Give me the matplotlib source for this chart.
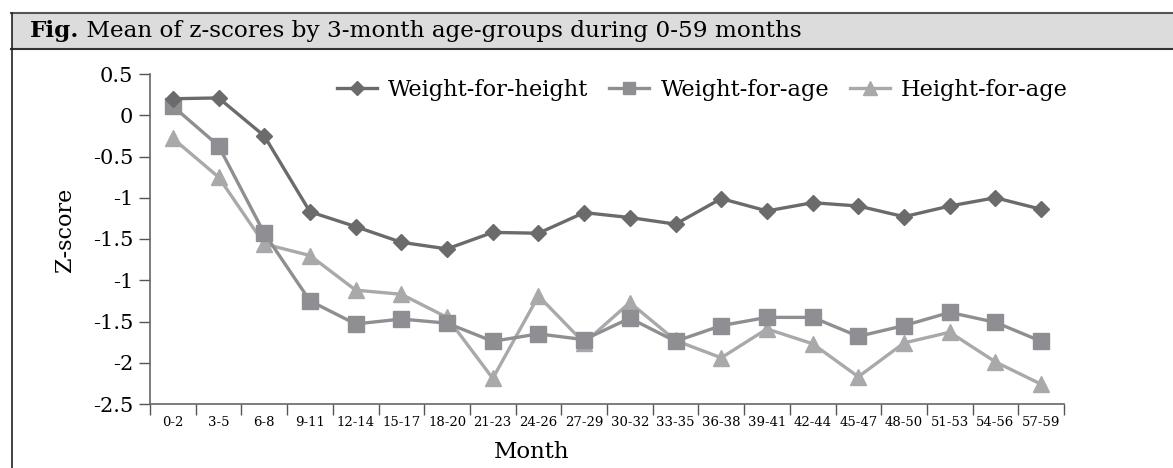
import matplotlib
matplotlib.use("Agg")
import matplotlib.pyplot as plt
from matplotlib.lines import Line2D
from matplotlib.patches import Rectangle

categories = ["0-2", "3-5", "6-8", "9-11", "12-14", "15-17", "18-20", "21-23", "24-26",
              "27-29", "30-32", "33-35", "36-38", "39-41", "42-44", "45-47", "48-50",
              "51-53", "54-56", "57-59"]
weight_for_height = [0.20, 0.21, -0.25, -1.17, -1.35, -1.54, -1.62, -1.42, -1.43, -1.18,
                     -1.24, -1.32, -1.01, -1.16, -1.06, -1.10, -1.23, -1.10, -1.00, -1.14]
weight_for_age = [0.11, -0.37, -1.43, -2.25, -2.53, -2.47, -2.52, -2.74, -2.65, -2.72,
                  -2.46, -2.74, -2.55, -2.45, -2.45, -2.68, -2.55, -2.39, -2.51, -2.74]
height_for_age = [-0.28, -0.75, -1.56, -1.70, -2.12, -2.17, -2.45, -3.19, -2.19, -2.76,
                  -2.27, -2.73, -2.94, -2.59, -2.77, -3.17, -2.76, -2.63, -2.99, -3.26]
ytick_values = [0.5, 0, -0.5, -1, -1.5, -2, -2.5, -3, -3.5]
ytick_labels = ["0.5", "0", "-0.5", "-1", "-1.5", "-1", "-1.5", "-2", "-2.5"]
title_bold = "Fig."
title_rest = " Mean of z-scores by 3-month age-groups during 0-59 months"

W, H = 1173, 468
SERIF = ["DejaVu Serif"]
plt.rcParams["font.family"] = SERIF

fig = plt.figure(figsize=(W / 100, H / 100), dpi=100)

def fx(px):
    return px / W

def fy(py):
    return 1 - py / H

# title band and frame
fig.patches.append(Rectangle((fx(12), fy(49)), 1 - fx(12), fy(13) - fy(49),
                             transform=fig.transFigure, facecolor="#dcdcdc",
                             edgecolor="none", zorder=0))
fig.add_artist(Line2D([fx(11), 1], [fy(13), fy(13)], color="#555555", lw=1.5))
fig.add_artist(Line2D([fx(11), 1], [fy(49), fy(49)], color="#333333", lw=1.5))
fig.add_artist(Line2D([fx(12), fx(12)], [fy(13), 0], color="#222222", lw=1.2))

t1 = fig.text(fx(30), fy(31), title_bold, fontsize=16.7, fontweight="bold", va="center",
              ha="left")
fig.canvas.draw()
bb = t1.get_window_extent()
fig.text(bb.x1 / W, fy(31), title_rest, fontsize=16.7, va="center", ha="left")

ax = fig.add_axes([fx(150), fy(404), fx(1064) - fx(150), fy(74) - fy(404)])
x = [i + 0.5 for i in range(len(categories))]

c_wfh, c_wfa, c_hfa = "#6b6b6b", "#8f8f93", "#a9a9ab"
ax.plot(x, weight_for_height, color=c_wfh, lw=2.4, marker="D", ms=8,
        label="Weight-for-height", zorder=5)
ax.plot(x, weight_for_age, color=c_wfa, lw=2.4, marker="s", ms=11,
        label="Weight-for-age", zorder=4)
ax.plot(x, height_for_age, color=c_hfa, lw=2.4, marker="^", ms=12,
        label="Height-for-age", zorder=3)

ax.set_xlim(0, len(categories))
ax.set_ylim(-3.5, 0.5)
ax.set_xticks(range(len(categories) + 1))
ax.set_xticklabels([])
ax.set_xticks(x, minor=True)
ax.set_xticklabels(categories, minor=True, fontsize=9.5)
ax.tick_params(axis="x", which="minor", length=0, pad=9)
ax.tick_params(axis="x", which="major", length=8, width=1, color="#555555", direction="out")
ax.set_yticks(ytick_values)
ax.set_yticklabels(ytick_labels, fontsize=15)
ax.tick_params(axis="y", length=8, width=1, color="#555555", direction="out", pad=4)
for s in ["top", "right"]:
    ax.spines[s].set_visible(False)
for s in ["left", "bottom"]:
    ax.spines[s].set_color("#666666")
    ax.spines[s].set_linewidth(1.2)

fig.text(fx(65), fy(230), "Z-score", rotation=90, fontsize=16, ha="center", va="center")
fig.text(fx(532), fy(452), "Month", fontsize=16.5, ha="center", va="center")

leg = ax.legend(loc="center left", bbox_to_anchor=(fx(337), fy(90)),
                bbox_transform=fig.transFigure, ncol=3, frameon=False, fontsize=16.2,
                handlelength=1.78, columnspacing=0.93, handletextpad=0.49, borderaxespad=0,
                borderpad=0, markerscale=0.85)

fig.savefig("out.png", dpi=100)
